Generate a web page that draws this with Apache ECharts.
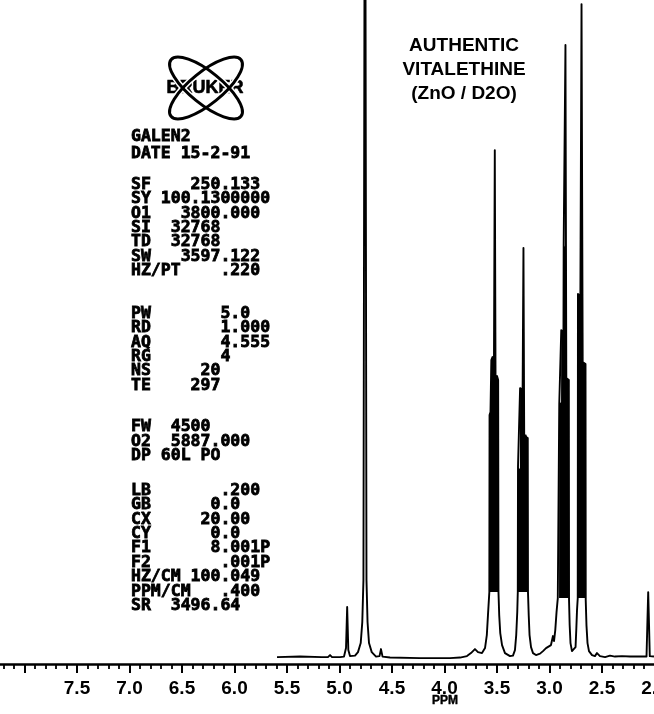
<!DOCTYPE html>
<html>
<head>
<meta charset="utf-8">
<script src="https://cdn.jsdelivr.net/npm/echarts@6/dist/echarts.min.js"></script>
<style>html,body{margin:0;padding:0;background:#fff}#c{width:654px;height:714px}</style>
</head>
<body>
<div id="c"></div>
<script>
// Tick labels shown on the ppm axis
const ppmTicks = [7.5, 7.0, 6.5, 6.0, 5.5, 5.0, 4.5, 4.0, 3.5, 3.0, 2.5, 2.0];

// Spectrum trace: [chemical shift (ppm), relative intensity]
const spectrum = [
  [5.595, 0.15], [5.376, 0.23], [5.167, 0.15], [5.110, 0.15], [5.090, 0.46], [5.071, 0.15],
  [4.995, 0.15], [4.957, 0.23], [4.938, 1.52], [4.927, 7.76], [4.916, 1.22], [4.900, 0.30],
  [4.852, 0.38], [4.824, 0.91], [4.798, 2.28], [4.783, 5.48], [4.772, 11.86], [4.757, 150],
  [4.743, 11.86], [4.733, 5.48], [4.719, 2.28], [4.693, 0.91], [4.652, 0.23], [4.619, 0.30],
  [4.605, 1.37], [4.590, 0.23], [4.519, 0.08], [4.233, 0.0], [3.948, 0.0], [3.852, 0.08],
  [3.786, 0.30], [3.748, 0.76], [3.710, 1.37], [3.681, 0.91], [3.643, 0.76], [3.614, 1.52],
  [3.597, 3.50], [3.586, 6.54], [3.573, 10.04], [3.571, 36.96], [3.562, 37.42], [3.554, 45.33],
  [3.543, 45.79], [3.529, 45.0], [3.521, 77.27], [3.514, 42.59], [3.500, 42.9], [3.489, 42.29],
  [3.486, 10.04], [3.479, 6.54], [3.469, 3.80], [3.452, 1.98], [3.424, 0.76], [3.376, 0.30],
  [3.348, 0.38], [3.329, 1.22], [3.317, 3.50], [3.307, 7.00], [3.302, 10.04], [3.300, 29.05],
  [3.282, 28.75], [3.280, 41.07], [3.256, 40.77], [3.248, 62.37], [3.241, 33.77], [3.224, 34.07],
  [3.207, 33.47], [3.205, 10.04], [3.198, 6.54], [3.190, 3.50], [3.176, 1.67], [3.157, 0.76],
  [3.129, 0.46], [3.090, 0.68], [3.062, 1.06], [3.033, 1.52], [3.014, 1.22], [2.986, 1.98],
  [2.967, 3.35], [2.957, 2.59], [2.945, 4.26], [2.933, 7.00], [2.921, 9.13], [2.909, 9.13],
  [2.907, 38.64], [2.890, 38.94], [2.888, 49.89], [2.867, 49.59], [2.865, 62.82], [2.854, 62.52],
  [2.848, 93.25], [2.840, 42.59], [2.816, 42.29], [2.814, 8.82], [2.808, 5.02], [2.800, 2.28],
  [2.786, 1.06], [2.767, 0.76], [2.752, 1.67], [2.745, 4.26], [2.738, 7.30], [2.731, 9.13],
  [2.729, 55.37], [2.706, 55.07], [2.695, 99.48], [2.684, 45.03], [2.657, 44.72], [2.655, 8.82],
  [2.648, 5.02], [2.638, 2.28], [2.624, 1.06], [2.595, 0.46], [2.567, 0.30], [2.548, 0.76],
  [2.533, 0.91], [2.519, 0.30], [2.471, 0.15], [2.424, 0.38], [2.376, 0.23], [2.310, 0.30],
  [2.233, 0.23], [2.138, 0.23], [2.076, 0.23], [2.067, 5.78], [2.060, 10.04], [2.052, 5.02],
  [2.045, 0.30], [2.005, 0.23]
];

// Unresolved multiplets drawn as solid blocks: [upper ppm, lower ppm, floor intensity]
const multipletBlocks = [
  [3.573, 3.486, 10.04],
  [3.302, 3.205, 10.04],
  [2.909, 2.814, 9.13],
  [2.731, 2.655, 9.13]
];

const titleLines = ['AUTHENTIC', 'VITALETHINE', '(ZnO / D2O)'];
const headerLines = ['GALEN2', 'DATE 15-2-91'];
const acqLines = ['SF    250.133', 'SY 100.1300000', 'O1   3800.000', 'SI  32768', 'TD  32768', 'SW   3597.122', 'HZ/PT    .220'];
const pulseLines = ['PW       5.0', 'RD       1.000', 'AQ       4.555', 'RG       4', 'NS     20', 'TE    297'];
const decLines = ['FW  4500', 'O2  5887.000', 'DP 60L PO'];
const procLines = ['LB       .200', 'GB      0.0', 'CX     20.00', 'CY      0.0', 'F1      8.001P', 'F2       .001P', 'HZ/CM 100.049', 'PPM/CM   .400', 'SR  3496.64'];
const logoText = 'BRUKER';
const axisName = 'PPM';

const chart = echarts.init(document.getElementById('c'), null, {renderer: 'canvas'});

function block(lines, y0, step) {
  return lines.map((t, i) => ({
    type: 'text', z: 10, x: 131, y: y0 + i * step, silent: true,
    style: {text: t, fill: '#000', stroke: '#000', lineWidth: 0.8, fontSize: 16.5, fontWeight: 'bold', fontFamily: 'DejaVu Sans Mono', align: 'left', verticalAlign: 'middle'}
  }));
}

const graphics = [].concat(
  titleLines.map((t, i) => ({
    type: 'text', z: 10, x: 464, y: 46 + i * 24, silent: true,
    style: {text: t, fill: '#000', fontSize: 19, fontWeight: 'bold', fontFamily: 'Liberation Sans', align: 'center', verticalAlign: 'middle'}
  })),
  block(headerLines, 137, 16.5),
  block(acqLines, 184.5, 14.4),
  block(pulseLines, 313.5, 14.4),
  block(decLines, 427, 14.4),
  block(procLines, 490.5, 14.4),
  [
    {type: 'text', z: 10, x: 205, y: 88.5, silent: true,
     style: {text: logoText, fill: '#000', stroke: '#000', lineWidth: 0.6, fontSize: 18, fontWeight: 'bold', fontFamily: 'Liberation Sans', align: 'center', verticalAlign: 'middle', letterSpacing: 3}},
    {type: 'ellipse', z: 11, x: 206, y: 88, rotation: 0.68, silent: true, shape: {cx: 0, cy: 0, rx: 45, ry: 16}, style: {fill: 'none', stroke: '#fff', lineWidth: 6}},
    {type: 'ellipse', z: 11, x: 206, y: 88, rotation: -0.68, silent: true, shape: {cx: 0, cy: 0, rx: 45, ry: 16}, style: {fill: 'none', stroke: '#fff', lineWidth: 6}},
    {type: 'ellipse', z: 12, x: 206, y: 88, rotation: 0.68, silent: true, shape: {cx: 0, cy: 0, rx: 45, ry: 16}, style: {fill: 'none', stroke: '#000', lineWidth: 3}},
    {type: 'ellipse', z: 12, x: 206, y: 88, rotation: -0.68, silent: true, shape: {cx: 0, cy: 0, rx: 45, ry: 16}, style: {fill: 'none', stroke: '#000', lineWidth: 3}},
    {type: 'text', z: 10, x: 445, y: 701, silent: true,
     style: {text: axisName, fill: '#000', stroke: '#000', lineWidth: 0.4, fontSize: 12, fontWeight: 'bold', fontFamily: 'Liberation Sans', align: 'center', verticalAlign: 'middle'}}
  ]
);

chart.setOption({
  animation: false,
  backgroundColor: '#fff',
  grid: {left: -28, right: -53, top: 0, bottom: 50, containLabel: false, outerBoundsMode: 'none'},
  xAxis: {
    type: 'value', inverse: true, min: 1.5, max: 8.5, interval: 0.5,
    axisLine: {show: true, onZero: false, lineStyle: {color: '#000', width: 2.5}},
    axisTick: {show: true, length: 9, lineStyle: {color: '#000', width: 2}},
    minorTick: {show: true, splitNumber: 5, length: 5, lineStyle: {color: '#000', width: 1.8}},
    splitLine: {show: false}, minorSplitLine: {show: false},
    axisLabel: {
      margin: 15, color: '#000', fontSize: 19, fontWeight: 'bold', fontFamily: 'Liberation Sans',
      formatter: v => ppmTicks.some(t => Math.abs(t - v) < 1e-6) ? v.toFixed(1) : ''
    }
  },
  yAxis: {type: 'value', min: -0.9, max: 100.1, show: false},
  series: [
    {
      type: 'custom', z: 3, silent: true, data: multipletBlocks,
      encode: {x: [0, 1], y: 2},
      renderItem: (params, api) => {
        const hi = api.value(0), lo = api.value(1), floor = api.value(2);
        const pts = spectrum
          .filter(p => p[0] <= hi + 1e-9 && p[0] >= lo - 1e-9)
          .map(p => api.coord([p[0], Math.max(p[1], floor)]));
        return {type: 'polygon', shape: {points: pts}, style: {fill: '#000'}};
      }
    },
    {
      type: 'line', z: 4, data: spectrum, showSymbol: false, symbol: 'none', smooth: false, clip: true,
      lineStyle: {color: '#000', width: 1.9, join: 'round'}
    }
  ],
  graphic: graphics
});
</script>
</body>
</html>
